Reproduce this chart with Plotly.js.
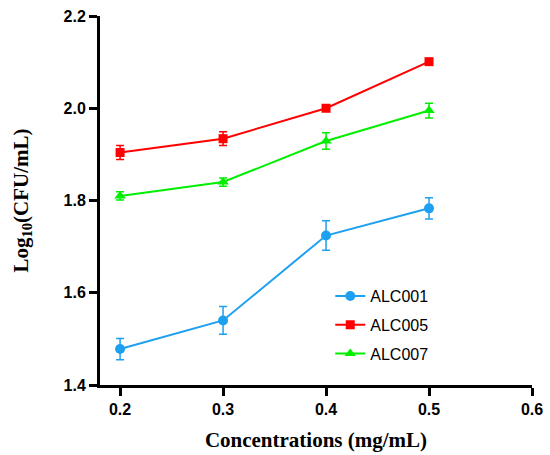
<!DOCTYPE html>
<html>
<head>
<meta charset="utf-8">
<script src="https://cdn.plot.ly/plotly-3.0.1.min.js"></script>
<style>html,body{margin:0;padding:0;background:#fff;}#chart{width:550px;height:455px;}</style>
</head>
<body>
<div id="chart"></div>
<script>
var concentrations = [0.2, 0.3, 0.4, 0.5];
var seriesNames = ["ALC001", "ALC005", "ALC007"];
var alc001 = [1.478, 1.540, 1.724, 1.783];
var alc001Err = [0.023, 0.030, 0.032, 0.023];
var alc005 = [1.904, 1.934, 2.000, 2.101];
var alc005Err = [0.015, 0.015, 0.004, 0.004];
var alc007 = [1.810, 1.840, 1.929, 1.995];
var alc007Err = [0.009, 0.009, 0.018, 0.016];
var xTicks = [0.2, 0.3, 0.4, 0.5, 0.6];
var yTicks = [1.4, 1.6, 1.8, 2.0, 2.2];

var colors = ["#1ea0f0", "#ff0000", "#00ee00"];
var symbols = ["circle", "square", "triangle-up"];
var sizes = [10, 9, 10];
var ys = [alc001, alc005, alc007];
var errs = [alc001Err, alc005Err, alc007Err];

var traces = seriesNames.map(function (name, i) {
  return {
    type: "scatter",
    mode: "lines+markers",
    name: name,
    legendgroup: name,
    x: concentrations,
    y: ys[i],
    line: {color: colors[i], width: 2},
    marker: {color: colors[i], symbol: symbols[i], size: sizes[i]},
    error_y: {type: "data", array: errs[i], visible: true, color: colors[i], thickness: 1.5, width: 4}
  };
});

var layout = {
  width: 550,
  height: 455,
  margin: {l: 100, r: 18, t: 16, b: 70},
  paper_bgcolor: "#fff",
  plot_bgcolor: "#fff",
  showlegend: true,
  legend: {
    x: 0.533, y: 0.287, xanchor: "left", yanchor: "top",
    font: {family: "Liberation Sans, Arial, sans-serif", size: 16, color: "#000"},
    bgcolor: "rgba(0,0,0,0)",
    tracegroupgap: 5,
    traceorder: "grouped"
  },
  xaxis: {
    range: [0.1805, 0.6],
    tickvals: xTicks,
    ticktext: xTicks.map(function (v) { return v.toFixed(1); }),
    showgrid: false,
    zeroline: false,
    showline: true,
    linecolor: "#000",
    linewidth: 3,
    ticks: "outside",
    ticklen: 8,
    tickwidth: 3,
    tickcolor: "#000",
    tickfont: {family: "Liberation Sans, Arial, sans-serif", size: 16, color: "#000", weight: "bold"},
    title: {text: "Concentrations (mg/mL)", standoff: 16,
      font: {family: "Liberation Serif, Times New Roman, serif", size: 21, color: "#000", weight: "bold"}}
  },
  yaxis: {
    range: [1.4, 2.2],
    tickvals: yTicks,
    ticktext: yTicks.map(function (v) { return v.toFixed(1); }),
    showgrid: false,
    zeroline: false,
    showline: true,
    linecolor: "#000",
    linewidth: 3,
    ticks: "outside",
    ticklen: 8,
    tickwidth: 3,
    tickcolor: "#000",
    tickfont: {family: "Liberation Sans, Arial, sans-serif", size: 16, color: "#000", weight: "bold"},
    title: {text: "Log<sub>10</sub>(CFU/mL)", standoff: 30,
      font: {family: "Liberation Serif, Times New Roman, serif", size: 21, color: "#000", weight: "bold"}}
  }
};

Plotly.newPlot("chart", traces, layout, {displayModeBar: false, staticPlot: true});
</script>
</body>
</html>
